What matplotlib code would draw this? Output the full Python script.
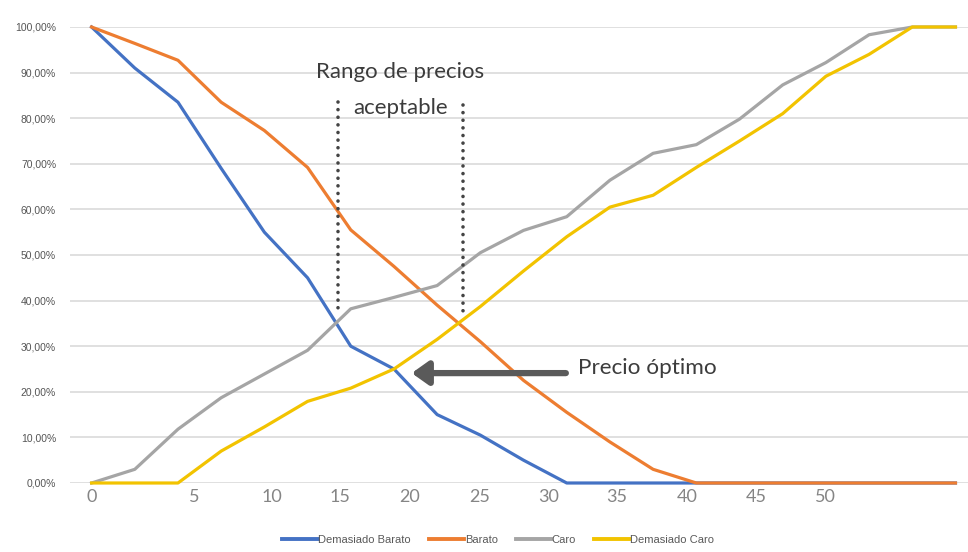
import matplotlib
matplotlib.use("Agg")
import matplotlib.pyplot as plt

# ---- data (21 price points, % of respondents) ----
demasiado_barato = [100, 91, 83.5, 69, 55, 45, 30, 25, 15, 10.5, 5, 0, 0, 0, 0, 0, 0, 0, 0, 0, 0]
barato = [100, 96.4, 92.7, 83.5, 77.3, 69.2, 55.5, 47.5, 39, 31, 22.5, 15.5, 9, 3, 0, 0, 0, 0, 0, 0, 0]
caro = [0, 3, 11.8, 18.7, 23.9, 29.1, 38.2, 40.7, 43.3, 50.5, 55.4, 58.4, 66.4, 72.3, 74.2, 79.8, 87.3, 92.2, 98.3, 100, 100]
demasiado_caro = [0, 0, 0, 7, 12.3, 17.9, 20.8, 25, 31.5, 38.7, 46.5, 54, 60.5, 63.1, 69.2, 75, 81, 89.2, 94, 100, 100]

series_names = ["Demasiado Barato", "Barato", "Caro", "Demasiado Caro"]
series_colors = ["#4472C4", "#ED7D31", "#A5A5A5", "#F2C300"]

x_tick_labels = ["0", "5", "10", "15", "20", "25", "30", "35", "40", "45", "50"]
x_tick_pos = [0, 2.37, 4.17, 5.74, 7.36, 8.99, 10.57, 12.16, 13.78, 15.38, 17.0]
y_ticks = [0, 10, 20, 30, 40, 50, 60, 70, 80, 90, 100]
y_tick_labels = ["0,00%", "10,00%", "20,00%", "30,00%", "40,00%", "50,00%",
                 "60,00%", "70,00%", "80,00%", "90,00%", "100,00%"]

W, H = 968, 552
fig = plt.figure(figsize=(W / 100, H / 100), dpi=100)
fig.patch.set_facecolor("white")
ax = fig.add_axes([70 / W, (H - 483) / H, 898 / W, 456 / H])

x = list(range(len(demasiado_barato)))
for vals, name, col in zip([demasiado_barato, barato, caro, demasiado_caro], series_names, series_colors):
    ax.plot(x, vals, color=col, lw=2.3, label=name, clip_on=False, zorder=3,
            solid_joinstyle="round")

ax.set_xlim(-0.5, 20.29)
ax.set_ylim(0, 100)

ax.set_yticks(y_ticks)
ax.set_yticklabels(y_tick_labels, fontsize=7.5, color="#555555",
                   family=["Liberation Sans", "DejaVu Sans"])
ax.set_xticks(x_tick_pos)
ax.set_xticklabels(x_tick_labels, fontsize=13, color="#858585",
                   family=["Lato", "DejaVu Sans"])
ax.tick_params(axis="y", length=0, pad=10)
ax.tick_params(axis="x", length=0, pad=4)
ax.grid(axis="y", color="#DADADA", lw=1.2, zorder=0)
for s in ax.spines.values():
    s.set_visible(False)

# annotations
dot_col = "#444444"
dot_style = (0, (0.01, 2.1))
ax.plot([5.70, 5.70], [83.5, 37.3], color=dot_col, lw=2.6, linestyle=dot_style,
        dash_capstyle="round", zorder=4)
ax.plot([8.59, 8.59], [83.0, 36.5], color=dot_col, lw=2.6, linestyle=dot_style,
        dash_capstyle="round", zorder=4)
ax.text(7.15, 90.2, "Rango de precios", ha="center", va="center", fontsize=16,
        color="#3c3c3c", family=["Lato", "DejaVu Sans"])
ax.text(7.15, 82.3, "aceptable", ha="center", va="center", fontsize=16,
        color="#3c3c3c", family=["Lato", "DejaVu Sans"])

ax.annotate("", xy=(7.41, 24.1), xytext=(10.98, 24.1),
            arrowprops=dict(arrowstyle="-|>,head_length=0.45,head_width=0.32",
                            mutation_scale=22, lw=4.5, color="#5a5a5a",
                            shrinkA=0, shrinkB=0),
            zorder=5)
ax.text(11.26, 25.2, "Precio óptimo", ha="left", va="center", fontsize=16.2,
        color="#3c3c3c", family=["Lato", "DejaVu Sans"])

leg = fig.legend(loc="center", bbox_to_anchor=(498 / W, 12 / H), ncol=4, frameon=False,
                 handlelength=3.2, handletextpad=0.05, columnspacing=1.6,
                 prop={"family": ["Liberation Sans", "DejaVu Sans"], "size": 8})
for t in leg.get_texts():
    t.set_color("#595959")
for l in leg.get_lines():
    l.set_linewidth(2.8)

fig.savefig("out.png", dpi=100, facecolor="white")
